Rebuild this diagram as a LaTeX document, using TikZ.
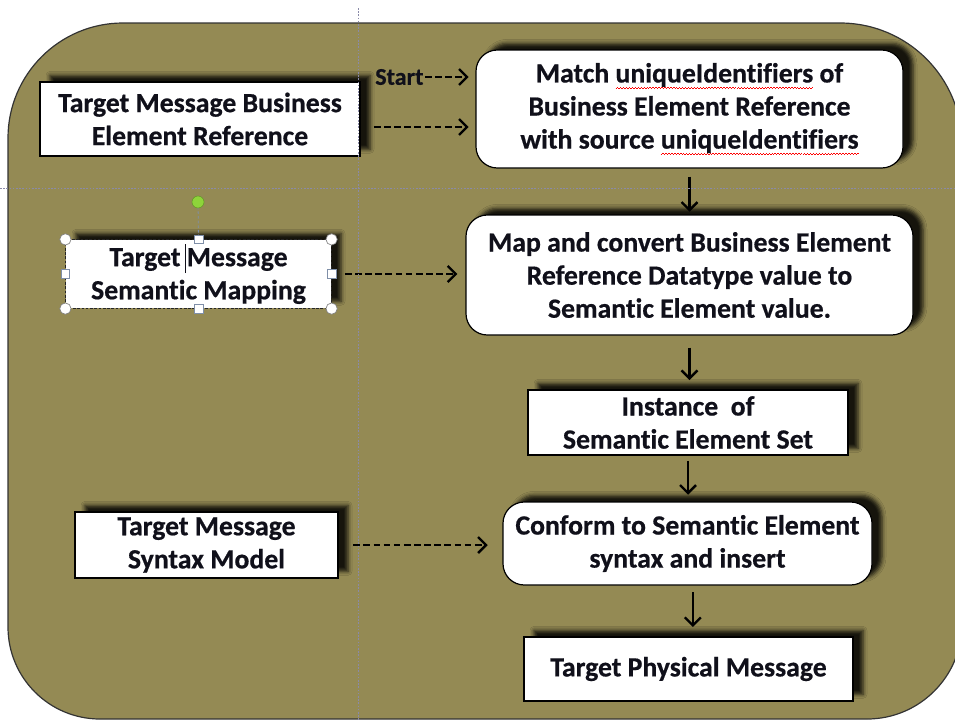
\documentclass[tikz,border=0pt]{standalone}
\usepackage{fontspec}
\setmainfont{Carlito}[RawFeature={-liga}, BoldFeatures={FakeBold=0.6,RawFeature={-liga}}]
\usetikzlibrary{arrows.meta,shadows.blur}

\definecolor{olivebg}{HTML}{948A54}
\definecolor{guide}{HTML}{8A8AA8}
\definecolor{handleline}{HTML}{7F8FA8}
\definecolor{handlegreen}{HTML}{8ED43A}
\definecolor{ink}{HTML}{10101A}

% red wavy spell-check underline under a word
\newcommand\spellwave[1]{%
  \setbox0\hbox{#1}%
  \rlap{\color{red}\raisebox{-4.8pt}{\hbox to \wd0{\xleaders\hbox{\rule{1.1pt}{0.5pt}\rule[0.9pt]{1.1pt}{0.5pt}}\hfill}}}%
  #1}

\tikzset{
  box/.style={draw=black, line width=0.9pt, fill=white, align=center, text=ink,
    font=\fontsize{20.8}{24.8}\selectfont\bfseries, inner sep=0pt,
    blur shadow={shadow xshift=7.5pt, shadow yshift=5pt, shadow blur radius=3pt, shadow opacity=85}},
  rbox/.style={box, rounded corners=16pt},
  flow/.style={-{Straight Barb[length=6pt,width=12pt,line width=1.8pt]}, line width=1.6pt},
  feed/.style={flow, line width=2pt, dash pattern=on 5pt off 2.6pt},
  guideline/.style={guide, line width=0.6pt, dash pattern=on 1.2pt off 1.2pt},
  cornerhandle/.style={circle, draw=gray, fill=white, line width=0.5pt, minimum size=8.5pt, inner sep=0pt},
  sidehandle/.style={rectangle, draw=handleline, fill=white, line width=0.5pt, minimum size=6.5pt, inner sep=0pt},
}

\begin{document}
\begin{tikzpicture}[x=0.75pt,y=-0.75pt]
\useasboundingbox (0,0) rectangle (955,721);

% olive background panel
\draw[fill=olivebg, draw=black!80, line width=0.9pt]
  (123,23) -- (840,23) arc[start angle=-90, end angle=0, radius=122]
  -- (962,624) arc[start angle=0, end angle=90, radius=95]
  -- (100,719) arc[start angle=90, end angle=180, radius=92]
  -- (8,138) arc[start angle=180, end angle=270, radius=115] -- cycle;

% left column
\node[box, minimum width=240pt, minimum height=55.5pt] (B1) at (200,119)
  {Target Message Business\\Element Reference};
\node[box, minimum width=198.75pt, minimum height=51pt, draw=none] (TMSM) at (198.5,274)
  {Target \makebox[0pt][r]{\rule[-0.25em]{0.6pt}{1.05em}\hspace{0.5pt}}Message\\Semantic Mapping};
\draw[black!85, line width=0.7pt, dash pattern=on 2pt off 1.2pt] (TMSM.north west) rectangle (TMSM.south east);
\node[box, minimum width=197.25pt, minimum height=49.5pt] (SYN) at (206.5,545)
  {Target Message\\Syntax Model};

% right column
\node[rbox, minimum width=320.25pt, minimum height=88.5pt] (M1) at (689.5,109)
  {Match \spellwave{uniqueIdentifiers} of\\Business Element Reference\\with source \spellwave{uniqueIdentifiers}};
\node[rbox, minimum width=335.25pt, minimum height=90pt] (M2) at (689.5,275)
  {Map and convert Business Element\\Reference Datatype value to\\Semantic Element value.};
\node[box, minimum width=240pt, minimum height=48.75pt] (INST) at (688,422.5)
  {Instance\ \ of\\Semantic Element Set};
\node[rbox, minimum width=276.75pt, minimum height=62.25pt] (CONF) at (687.5,543.5)
  {Conform to Semantic Element\\syntax and insert};
\node[box, minimum width=246.75pt, minimum height=48pt] (TPM) at (688.5,669)
  {Target Physical Message};

% start label
\node[font=\fontsize{18}{20}\selectfont\bfseries, text=ink, inner sep=0pt, anchor=west] (START) at (375,77) {Start};

% dashed feeds into the main flow
\draw[feed, shorten <=1pt, shorten >=5pt] (START.east) -- (START.east -| M1.west);
\coordinate (b1out) at ([yshift=-6pt]B1.east);
\draw[feed, shorten >=5pt] ([xshift=10pt]b1out) -- (b1out -| M1.west);
\draw[feed, shorten <=10pt, shorten >=6pt] (TMSM.east) -- (TMSM.east -| M2.west);
\draw[feed, shorten <=11pt, shorten >=11pt] (SYN.east) -- (SYN.east -| CONF.west);

% main flow
\draw[flow, shorten <=6pt, shorten >=2pt] (M1.south) -- (M1.south |- M2.north);
\draw[flow, shorten <=9pt, shorten >=7pt] (M2.south) -- (M2.south |- INST.north);
\draw[flow, shorten <=4pt, shorten >=5pt] (INST.south) -- (INST.south |- CONF.north);
\draw[flow, shorten <=5pt, shorten >=7pt] ([xshift=4pt]CONF.south) -- ([xshift=4pt]CONF.south |- TPM.north);

% ruler guides
\draw[guideline] (358,8) -- (358,721);
\draw[guideline] (0,188) -- (955,188);

% selection handles on the semantic mapping box
\coordinate (rot) at (198,202);
\draw[handleline, line width=0.6pt, dash pattern=on 2pt off 1.5pt] (rot) -- (TMSM.north);
\node[circle, draw=handlegreen!70!black, fill=handlegreen, minimum size=9pt, inner sep=0pt, line width=0.4pt] (rotknob) at (rot) {};
\foreach \a/\n in {north west/hnw, north east/hne, south west/hsw, south east/hse}
  \node[cornerhandle] (\n) at (TMSM.\a) {};
\foreach \a/\n in {north/hn, south/hs, west/hw, east/he}
  \node[sidehandle] (\n) at (TMSM.\a) {};
\end{tikzpicture}
\end{document}
